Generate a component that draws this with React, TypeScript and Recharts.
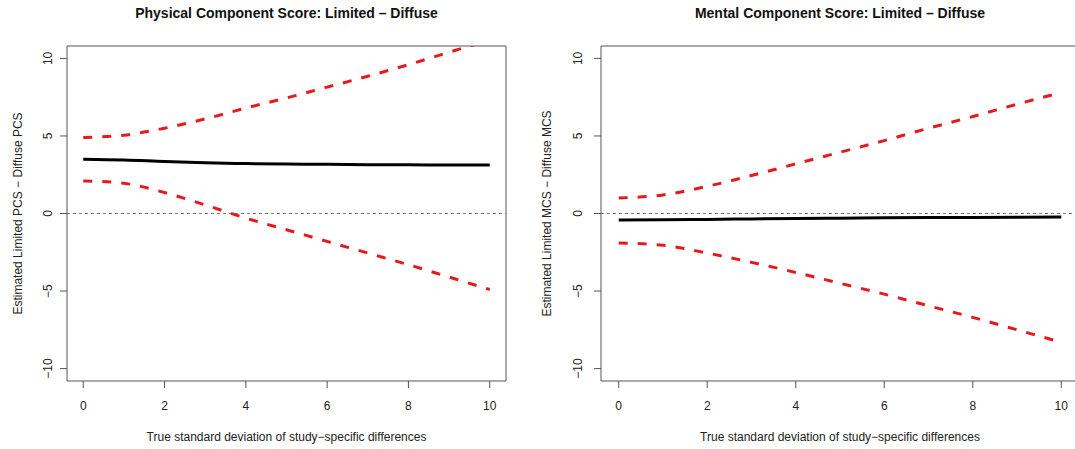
import {
  LineChart,
  Line,
  XAxis,
  YAxis,
  ReferenceLine,
  ReferenceArea,
} from "recharts";

// true SD of study-specific differences
const sdValues = [0, 1, 2, 3, 4, 5, 6, 7, 8, 9, 10];

// Physical Component Score: Limited - Diffuse
const pcsEstimate = [3.5, 3.45, 3.35, 3.27, 3.22, 3.19, 3.17, 3.15, 3.14, 3.13, 3.12];
const pcsUpper = [4.9, 5.05, 5.5, 6.1, 6.8, 7.45, 8.15, 8.85, 9.6, 10.4, 11.2];
const pcsLower = [2.1, 1.95, 1.35, 0.55, -0.3, -1.05, -1.8, -2.55, -3.3, -4.1, -4.9];

// Mental Component Score: Limited - Diffuse
const mcsEstimate = [-0.42, -0.41, -0.38, -0.35, -0.32, -0.3, -0.28, -0.26, -0.25, -0.24, -0.23];
const mcsUpper = [1.0, 1.2, 1.75, 2.45, 3.2, 3.95, 4.7, 5.5, 6.25, 7.05, 7.8];
const mcsLower = [-1.9, -2.05, -2.55, -3.15, -3.8, -4.5, -5.2, -5.95, -6.7, -7.5, -8.3];

const xTicks = [0, 2, 4, 6, 8, 10];
const yTicks = [-10, -5, 0, 5, 10];
const xDomain: [number, number] = [-0.4, 10.4];
const yDomain: [number, number] = [-10.8, 10.8];

const FONT = "'Liberation Sans', Arial, Helvetica, sans-serif";
const RED = "#e41a1c";
const AXIS = "#555";

const fmt = (v: number) => (v < 0 ? `\u2212${Math.abs(v)}` : `${v}`);

function makeRows(est: number[], lo: number[], hi: number[]) {
  return sdValues.map((sd, i) => ({ sd, est: est[i], lo: lo[i], hi: hi[i] }));
}

function YTick({ x, y, payload, shift }: any) {
  const cx = x - shift;
  return (
    <text
      x={cx}
      y={y}
      transform={`rotate(-90 ${cx} ${y})`}
      textAnchor="middle"
      dy="0.35em"
      fontSize={12}
      fill="#222"
      fontFamily={FONT}
    >
      {fmt(payload.value)}
    </text>
  );
}

type PanelProps = {
  title: string;
  yLabel: string;
  rows: ReturnType<typeof makeRows>;
  left: number;
  width: number;
  marginRight: number;
  yLabelX: number;
  tickShift: number;
};

function Panel({ title, yLabel, rows, left, width, marginRight, yLabelX, tickShift }: PanelProps) {
  const plotLeft = 67;
  const plotWidth = width - plotLeft - marginRight;
  return (
    <div style={{ position: "absolute", left, top: 0, width, height: 449 }}>
      <div
        style={{
          position: "absolute",
          left: plotLeft,
          width: plotWidth,
          top: 5,
          textAlign: "center",
          fontFamily: FONT,
          fontWeight: "bold",
          fontSize: 14,
          lineHeight: "17px",
          color: "#111",
        }}
      >
        {title}
      </div>
      <LineChart
        width={width}
        height={449}
        data={rows}
        margin={{ top: 46, right: marginRight, bottom: 0, left: 0 }}
      >
        <XAxis
          dataKey="sd"
          type="number"
          domain={xDomain}
          ticks={xTicks}
          allowDataOverflow
          height={68}
          axisLine={false}
          tickSize={7}
          tickMargin={13}
          tickLine={{ stroke: AXIS }}
          tick={{ fontSize: 12, fill: "#222", fontFamily: FONT }}
          label={{
            value: "True standard deviation of study\u2212specific differences",
            position: "insideBottom",
            offset: 8,
            style: { fontSize: 12, fill: "#222", fontFamily: FONT },
          }}
        />
        <YAxis
          type="number"
          domain={yDomain}
          ticks={yTicks}
          allowDataOverflow
          width={67}
          axisLine={false}
          tickSize={7}
          tickLine={{ stroke: AXIS }}
          tick={<YTick shift={tickShift} />}
          label={{
            value: yLabel,
            angle: -90,
            position: "insideLeft",
            offset: yLabelX,
            style: { fontSize: 12, fill: "#222", fontFamily: FONT, textAnchor: "middle" },
          }}
        />
        <ReferenceArea
          x1={xDomain[0]}
          x2={xDomain[1]}
          y1={yDomain[0]}
          y2={yDomain[1]}
          fill="none"
          fillOpacity={0}
          stroke={AXIS}
          strokeWidth={1}
        />
        <ReferenceLine y={0} stroke="#777" strokeDasharray="3 3" strokeWidth={1.2} />
        <Line
          dataKey="hi"
          type="monotone"
          stroke={RED}
          strokeWidth={3}
          strokeDasharray="9 10"
          dot={false}
          isAnimationActive={false}
        />
        <Line
          dataKey="lo"
          type="monotone"
          stroke={RED}
          strokeWidth={3}
          strokeDasharray="9 10"
          dot={false}
          isAnimationActive={false}
        />
        <Line
          dataKey="est"
          type="monotone"
          stroke="#000"
          strokeWidth={3}
          dot={false}
          isAnimationActive={false}
        />
      </LineChart>
    </div>
  );
}

export default function App() {
  return (
    <div
      style={{
        position: "absolute",
        left: 0,
        top: 0,
        width: 1075,
        height: 449,
        overflow: "hidden",
        background: "#fff",
      }}
    >
      <Panel
        title={"Physical Component Score: Limited \u2013 Diffuse"}
        yLabel={"Estimated Limited PCS \u2212 Diffuse PCS"}
        rows={makeRows(pcsEstimate, pcsLower, pcsUpper)}
        left={0}
        width={540}
        marginRight={34}
        yLabelX={18}
        tickShift={10}
      />
      <Panel
        title={"Mental Component Score: Limited \u2013 Diffuse"}
        yLabel={"Estimated Limited MCS \u2212 Diffuse MCS"}
        rows={makeRows(mcsEstimate, mcsLower, mcsUpper)}
        left={534}
        width={550}
        marginRight={5}
        yLabelX={13}
        tickShift={14}
      />
    </div>
  );
}
